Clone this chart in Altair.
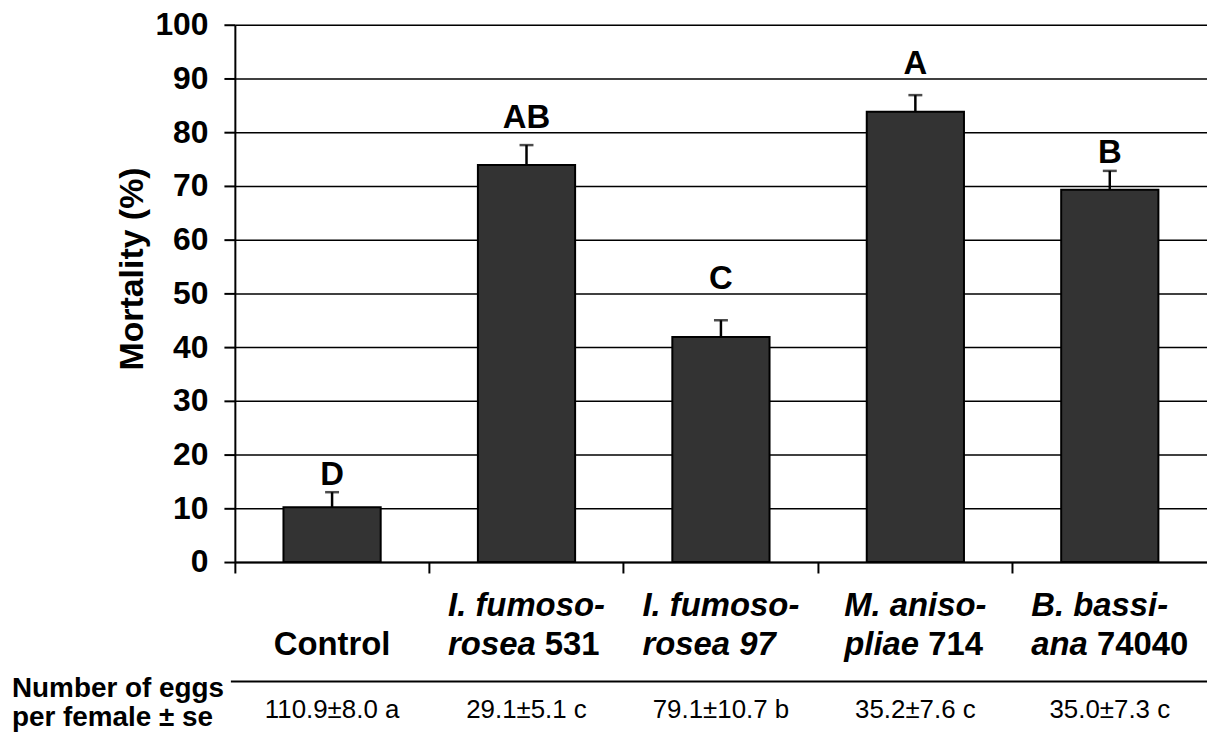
import altair as alt
import pandas as pd

# ---------------- data ----------------
categories = ["Control", "I. fumoso-rosea 531", "I. fumoso-rosea 97",
              "M. anisopliae 714", "B. bassiana 74040"]
mortality = [10.2, 73.9, 41.9, 83.8, 69.3]
sem = [2.8, 3.7, 3.1, 3.1, 3.5]
letters = ["D", "AB", "C", "A", "B"]
letter_y = [14.3, 80.7, 50.9, 90.9, 74.3]
eggs = ["110.9±8.0 a", "29.1±5.1 c", "79.1±10.7 b", "35.2±7.6 c", "35.0±7.3 c"]

# two-line category labels (italic parts / roman parts)
label_line1_italic = ["", "I. fumoso-", "I. fumoso-", "M. aniso-", "B. bassi-"]
label_line2_italic = ["", "rosea", "rosea 97", "pliae", "ana"]
label_line2_roman = ["Control", "531", "", "714", "74040"]

row_header = ["Number of eggs", "per female ± se"]
y_ticks = list(range(0, 101, 10))

# ---------------- styling ----------------
FONT = "Liberation Sans"
W, H = 977, 540
LBL_FS = 33

# Arial / Liberation Sans bold advance widths (per 1000 em)
_BW = {' ': 278, 'a': 556, 'b': 611, 'c': 556, 'e': 556, 'f': 333, 'i': 278,
       'l': 278, 'm': 889, 'n': 611, 'o': 611, 'p': 611, 'r': 389, 's': 556,
       't': 333, 'u': 611, '-': 333, '.': 278, 'I': 278, 'M': 833, 'B': 722,
       'C': 722}


def text_w(s, fs=LBL_FS):
    return sum(_BW.get(ch, 556) for ch in s) / 1000.0 * fs


df = pd.DataFrame({
    "cat": categories,
    "val": mortality,
    "top": [m + s for m, s in zip(mortality, sem)],
    "letter": letters,
    "ly": letter_y,
    "eggs": eggs,
})

x_enc = alt.X(
    "cat:N", sort=categories,
    scale=alt.Scale(domain=categories, paddingInner=0, paddingOuter=0),
    axis=alt.Axis(labels=False, title=None, ticks=True, tickSize=11,
                  tickColor="black", tickWidth=2, domainColor="black",
                  domainWidth=2, bandPosition=0, grid=False),
)
y_axis = alt.Axis(
    values=y_ticks, title="Mortality (%)", grid=True, gridColor="black",
    gridWidth=1.5, domainColor="black", domainWidth=2, tickColor="black",
    tickWidth=2, tickSize=11, labelFont=FONT, labelFontSize=32,
    labelFontWeight="bold", labelColor="black", labelPadding=16,
    titleFont=FONT, titleFontSize=34, titleFontWeight="bold",
    titleColor="black", titleAngle=270, titleX=-103, titleY=245,
    titleAlign="center", titleBaseline="middle",
)
y_scale = alt.Scale(domain=[0, 100], nice=False)

base = alt.Chart(df)

bars = base.mark_bar(width=alt.RelativeBandSize(0.5), color="#333333",
                     stroke="black", strokeWidth=2).encode(
    x=x_enc, y=alt.Y("val:Q", scale=y_scale, axis=y_axis))

err = base.mark_rule(color="black", strokeWidth=2.5).encode(
    x=x_enc, y=alt.Y("val:Q", scale=y_scale), y2="top:Q")

caps = base.mark_tick(color="black", size=14, thickness=2.5).encode(
    x=x_enc, y=alt.Y("top:Q", scale=y_scale))

letter_txt = base.mark_text(font=FONT, fontSize=33, fontWeight="bold",
                            color="black", baseline="alphabetic").encode(
    x=x_enc, y=alt.Y("ly:Q", scale=y_scale), text="letter:N")

eggs_txt = base.mark_text(font=FONT, fontSize=26, color="black",
                          baseline="alphabetic").encode(
    x=x_enc, y=alt.value(697), text="eggs:N")

layers = [bars, err, caps, letter_txt, eggs_txt]

# category labels (mixed italic / roman)
for i, cat in enumerate(categories):
    l1 = label_line1_italic[i]
    l2i = label_line2_italic[i]
    l2r = label_line2_roman[i]
    line2_full = (l2i + " " + l2r).strip()
    block = max(text_w(l1), text_w(line2_full))
    left = -block / 2.0
    parts = []
    if l1:
        parts.append((l1, "italic", 594, left))
    if l2i:
        parts.append((l2i, "italic", 633, left))
    if l2r:
        off = left + (text_w(l2i + " ") if l2i else 0)
        parts.append((l2r, "normal", 633, off))
    for txt, style, ypx, dx in parts:
        d = pd.DataFrame({"cat": [cat], "t": [txt]})
        layers.append(
            alt.Chart(d).mark_text(
                font=FONT, fontSize=LBL_FS, fontWeight="bold", fontStyle=style,
                color="black", align="left", baseline="alphabetic", dx=dx,
            ).encode(x=x_enc, y=alt.value(ypx), text="t:N")
        )

# row header for the eggs table
hdr = pd.DataFrame({"t": row_header, "yy": [676, 705]})
layers.append(
    alt.Chart(hdr).mark_text(font=FONT, fontSize=28, fontWeight="bold",
                             color="black", align="left",
                             baseline="alphabetic").encode(
        x=alt.value(-224), y=alt.Y("yy:Q", scale=None), text="t:N")
)

# separator line above the eggs row
sep = pd.DataFrame({"k": [0]})
layers.append(
    alt.Chart(sep).mark_rule(color="black", strokeWidth=2).encode(
        x=alt.value(-4), x2=alt.value(W), y=alt.value(660))
)

chart = alt.layer(*layers).properties(
    width=W, height=H,
    autosize=alt.AutoSizeParams(type="none"),
    padding={"left": 228, "top": 15, "right": 0, "bottom": 170},
).configure_view(stroke=None).configure(background="white")

chart.save("out.html", embed_options={"renderer": "svg", "actions": False})
